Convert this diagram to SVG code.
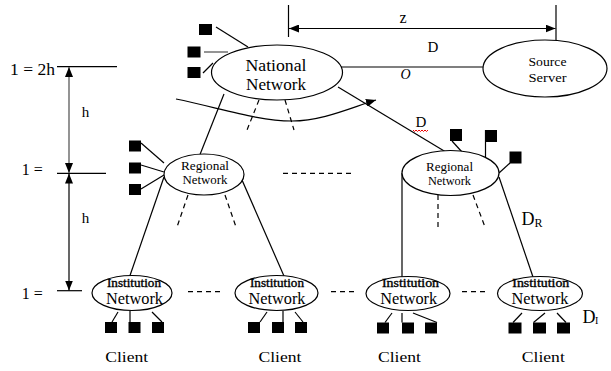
<svg xmlns="http://www.w3.org/2000/svg" width="611" height="371" viewBox="0 0 611 371">
<style>
  .ln{stroke:#000;stroke-width:1.2;fill:none}
  .gr{stroke:#666;stroke-width:1.4;fill:none}
  .ds{stroke:#000;stroke-width:1.2;fill:none;stroke-dasharray:5 4}
  .nd{fill:#fff;stroke:#000;stroke-width:1.2}
  .sq{fill:#000}
  text{font-family:"Liberation Serif","Times New Roman",serif;fill:#000}
  .c{text-anchor:middle}
  .it{stroke:#000;stroke-width:0.35}
</style>
<defs>
  <marker id="ah" viewBox="0 0 10 8" refX="10" refY="4" markerWidth="10" markerHeight="8" markerUnits="userSpaceOnUse" orient="auto-start-reverse">
    <path d="M0,0 L10,4 L0,8 z" fill="#000"/>
  </marker>
</defs>
<rect width="611" height="371" fill="#fff"/>

<g id="dimensions">
  <line class="ln" x1="288.5" y1="5" x2="288.5" y2="37"/>
  <line class="ln" x1="556" y1="5" x2="556" y2="40"/>
  <line class="ln" x1="289" y1="28.5" x2="555.5" y2="28.5" marker-start="url(#ah)" marker-end="url(#ah)"/>
  <text class="c" x="403" y="23.3" font-size="16">z</text>
  <line class="ln" x1="57" y1="66.7" x2="117" y2="66.7"/>
  <line class="ln" x1="57" y1="173.3" x2="106" y2="173.3"/>
  <line class="ln" x1="57" y1="290.7" x2="82" y2="290.7"/>
  <line class="gr" x1="69" y1="67" x2="69" y2="173" marker-start="url(#ah)" marker-end="url(#ah)"/>
  <line class="ln" x1="69" y1="173.5" x2="69" y2="290.5" marker-start="url(#ah)" marker-end="url(#ah)"/>
  <text x="10" y="75" font-size="17" textLength="45" lengthAdjust="spacingAndGlyphs">1 = 2h</text>
  <text x="21.7" y="175" font-size="17" textLength="21" lengthAdjust="spacingAndGlyphs">1 =</text>
  <text x="21.7" y="299.3" font-size="17" textLength="21" lengthAdjust="spacingAndGlyphs">1 =</text>
  <text x="81.7" y="116.7" font-size="15">h</text>
  <text x="81.7" y="223.3" font-size="15">h</text>
</g>

<g id="connectors">
  <line class="ln" x1="341" y1="67" x2="484" y2="67"/>
  <line class="ln" x1="224" y1="94" x2="200" y2="154.5"/>
  <line class="ln" x1="338" y1="87" x2="445" y2="151.5"/>
  <line class="ln" x1="164" y1="177" x2="130" y2="275.5"/>
  <line class="ln" x1="242" y1="180" x2="284" y2="276"/>
  <line class="ln" x1="402" y1="173" x2="402" y2="277"/>
  <line class="ln" x1="499" y1="177" x2="533" y2="277"/>
  <path class="ln" d="M176,99 C220,108 258,121 292,121 C322,121 350,108 376,100" marker-end="url(#ah)"/>
  <line class="ds" x1="259" y1="100" x2="247" y2="130"/>
  <line class="ds" x1="285" y1="100" x2="294" y2="130"/>
  <line class="ds" x1="188" y1="195" x2="177" y2="227"/>
  <line class="ds" x1="225" y1="195" x2="236" y2="227"/>
  <line class="ds" x1="438" y1="195" x2="438" y2="228"/>
  <line class="ds" x1="473" y1="195" x2="485" y2="227"/>
  <line class="ds" x1="283" y1="173.3" x2="353" y2="173.3"/>
  <line class="ds" x1="188" y1="291.7" x2="221" y2="291.7" stroke-dasharray="5 3.5"/>
  <line class="ds" x1="331" y1="291.7" x2="354" y2="291.7" stroke-dasharray="5 3.5"/>
  <line class="ds" x1="462" y1="291.7" x2="485" y2="291.7" stroke-dasharray="5 3.5"/>
  <text class="c" x="433" y="51.7" font-size="15">D</text>
  <text class="c" x="405.5" y="79" font-size="14" font-style="italic">O</text>
  <text class="c" x="421" y="127.3" font-size="15">D</text>
  <path d="M413,130 l1.5,1.5 l1.5,-1.5 l1.5,1.5 l1.5,-1.5 l1.5,1.5 l1.5,-1.5 l1.5,1.5 l1.5,-1.5 l1.5,1.5 l1.5,-1.5" stroke="#e00" stroke-width="1" fill="none"/>
  <text x="521.5" y="225" font-size="18">D</text>
  <text x="534.5" y="226.7" font-size="12">R</text>
  <text x="582.5" y="322.7" font-size="18">D</text>
  <text x="595" y="324" font-size="10">I</text>
</g>

<g id="national">
  <rect class="sq" x="199" y="24" width="13" height="11"/>
  <rect class="sq" x="187.5" y="46.5" width="13" height="11"/>
  <rect class="sq" x="187.5" y="67" width="13" height="11"/>
  <line class="ln" x1="216" y1="27" x2="248" y2="47"/>
  <line class="gr" x1="204" y1="52" x2="228" y2="52"/>
  <line class="ln" x1="203" y1="73" x2="213" y2="63"/>
  <ellipse class="nd" cx="277" cy="72.5" rx="65.5" ry="27.5"/>
  <text class="c" x="276" y="70.7" font-size="16" textLength="61" lengthAdjust="spacingAndGlyphs">National</text>
  <text class="c" x="276" y="90" font-size="16" textLength="60" lengthAdjust="spacingAndGlyphs">Network</text>
</g>

<g id="source">
  <ellipse class="nd" cx="545" cy="68.5" rx="62" ry="28.5"/>
  <text class="c" x="547.5" y="66" font-size="13" textLength="38" lengthAdjust="spacingAndGlyphs">Source</text>
  <text class="c" x="547.5" y="81.5" font-size="13" textLength="38" lengthAdjust="spacingAndGlyphs">Server</text>
</g>

<g id="regional-left">
  <rect class="sq" x="129" y="140.5" width="12" height="11"/>
  <rect class="sq" x="129" y="162.5" width="12" height="11"/>
  <rect class="sq" x="129" y="184" width="12" height="11"/>
  <line class="ln" x1="141" y1="143" x2="164" y2="163"/>
  <line class="ln" x1="141" y1="165" x2="164" y2="172"/>
  <line class="ln" x1="141" y1="189" x2="164" y2="175"/>
  <ellipse class="nd" cx="204" cy="174.5" rx="40" ry="20.5"/>
  <text class="c" x="205" y="170" font-size="12" textLength="48" lengthAdjust="spacingAndGlyphs">Regional</text>
  <text class="c" x="205" y="184" font-size="12" textLength="45" lengthAdjust="spacingAndGlyphs">Network</text>
</g>

<g id="regional-right">
  <rect class="sq" x="450" y="129" width="12" height="12"/>
  <rect class="sq" x="485" y="130" width="12" height="12"/>
  <rect class="sq" x="509.5" y="151.5" width="12" height="12"/>
  <line class="ln" x1="452" y1="141" x2="462" y2="152"/>
  <line class="ln" x1="485.5" y1="130" x2="485.5" y2="162"/>
  <line class="ln" x1="510" y1="163" x2="499" y2="173"/>
  <ellipse class="nd" cx="450.5" cy="173" rx="48.5" ry="22.5"/>
  <text class="c" x="449.5" y="170.7" font-size="12" textLength="47" lengthAdjust="spacingAndGlyphs">Regional</text>
  <text class="c" x="449.5" y="185" font-size="12" textLength="43" lengthAdjust="spacingAndGlyphs">Network</text>
</g>

<g id="institution-1">
  <ellipse class="nd" cx="132" cy="293" rx="40" ry="17.5"/>
  <text class="c it" x="134" y="287" font-size="12" textLength="54" lengthAdjust="spacingAndGlyphs">Institution</text>
  <text class="c" x="134.5" y="304" font-size="16" textLength="57" lengthAdjust="spacingAndGlyphs">Network</text>
  <rect class="sq" x="105" y="322" width="12" height="11"/>
  <rect class="sq" x="128.5" y="322" width="12" height="11"/>
  <rect class="sq" x="152" y="322" width="12" height="11"/>
  <line class="ln" x1="112" y1="322" x2="118" y2="312"/>
  <line class="ln" x1="130" y1="322" x2="130" y2="311"/>
  <line class="ln" x1="162" y1="322" x2="152" y2="312"/>
  <text class="c" x="126.7" y="361.7" font-size="15" textLength="43" lengthAdjust="spacingAndGlyphs">Client</text>
</g>

<g id="institution-2">
  <ellipse class="nd" cx="276.5" cy="293" rx="41.5" ry="17.5"/>
  <text class="c it" x="277" y="287" font-size="12" textLength="54" lengthAdjust="spacingAndGlyphs">Institution</text>
  <text class="c" x="277" y="304" font-size="16" textLength="57" lengthAdjust="spacingAndGlyphs">Network</text>
  <rect class="sq" x="248" y="322" width="12" height="11"/>
  <rect class="sq" x="272" y="322" width="12" height="11"/>
  <rect class="sq" x="295" y="322" width="12" height="11"/>
  <line class="ln" x1="260" y1="322" x2="267" y2="312"/>
  <line class="ln" x1="283" y1="322" x2="283" y2="311"/>
  <line class="ln" x1="303" y1="322" x2="295" y2="312"/>
  <text class="c" x="280" y="361.7" font-size="15" textLength="43" lengthAdjust="spacingAndGlyphs">Client</text>
</g>

<g id="institution-3">
  <ellipse class="nd" cx="408" cy="293.5" rx="42" ry="17"/>
  <text class="c it" x="410.5" y="287.3" font-size="12" textLength="57" lengthAdjust="spacingAndGlyphs">Institution</text>
  <text class="c" x="408.7" y="304" font-size="16" textLength="57" lengthAdjust="spacingAndGlyphs">Network</text>
  <rect class="sq" x="377" y="322.5" width="12" height="11"/>
  <rect class="sq" x="402" y="322.5" width="12" height="11"/>
  <rect class="sq" x="425" y="322.5" width="12" height="11"/>
  <line class="ln" x1="385" y1="322.5" x2="392" y2="313"/>
  <line class="ln" x1="402" y1="322.5" x2="402" y2="313"/>
  <line class="ln" x1="437" y1="322.5" x2="413" y2="313"/>
  <text class="c" x="399.5" y="361.7" font-size="15" textLength="43" lengthAdjust="spacingAndGlyphs">Client</text>
</g>

<g id="institution-4">
  <ellipse class="nd" cx="540" cy="293.5" rx="42.5" ry="17"/>
  <text class="c it" x="540.8" y="287.3" font-size="12" textLength="57" lengthAdjust="spacingAndGlyphs">Institution</text>
  <text class="c" x="540" y="304" font-size="16" textLength="57" lengthAdjust="spacingAndGlyphs">Network</text>
  <rect class="sq" x="508.5" y="322.5" width="13" height="11"/>
  <rect class="sq" x="533" y="322.5" width="13" height="11"/>
  <rect class="sq" x="557" y="322.5" width="13" height="11"/>
  <line class="ln" x1="513" y1="322.5" x2="522" y2="313"/>
  <line class="ln" x1="533.5" y1="322.5" x2="545" y2="313"/>
  <line class="ln" x1="566" y1="322.5" x2="557" y2="313"/>
  <text class="c" x="543.3" y="361.7" font-size="15" textLength="43" lengthAdjust="spacingAndGlyphs">Client</text>
</g>
</svg>
